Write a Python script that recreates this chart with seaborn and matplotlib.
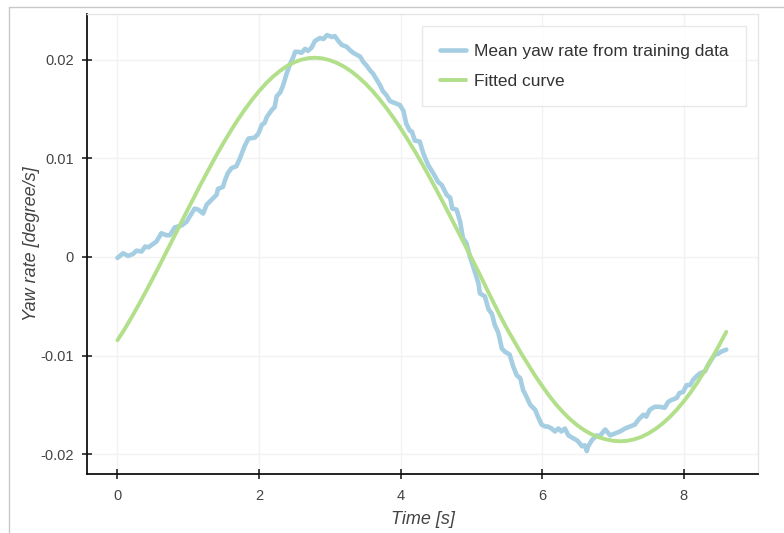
import numpy as np
import pandas as pd
import matplotlib
matplotlib.use("Agg")
import matplotlib.pyplot as plt
from matplotlib.lines import Line2D
import seaborn as sns

# mean yaw rate from training data
time_data = [0.00, 0.08, 0.15, 0.22, 0.27, 0.34, 0.39, 0.44, 0.48, 0.55, 0.62, 0.69, 0.74, 0.81,
             0.91, 0.98, 1.02, 1.09, 1.14, 1.21, 1.26, 1.33, 1.40, 1.42, 1.49, 1.52, 1.56, 1.61,
             1.68, 1.73, 1.80, 1.85, 1.94, 1.99, 2.04, 2.08, 2.11, 2.18, 2.22, 2.25, 2.30, 2.34,
             2.39, 2.44, 2.48, 2.51, 2.55, 2.60, 2.65, 2.69, 2.74, 2.79, 2.86, 2.91, 2.96, 3.03,
             3.07, 3.12, 3.17, 3.24, 3.28, 3.33, 3.38, 3.43, 3.47, 3.52, 3.57, 3.61, 3.66, 3.71,
             3.75, 3.80, 3.85, 3.92, 3.99, 4.04, 4.08, 4.13, 4.16, 4.20, 4.27, 4.32, 4.39, 4.46,
             4.53, 4.58, 4.65, 4.70, 4.73, 4.79, 4.84, 4.88, 4.93, 4.98, 5.03, 5.10, 5.12, 5.19,
             5.24, 5.29, 5.33, 5.38, 5.43, 5.47, 5.54, 5.59, 5.64, 5.69, 5.73, 5.78, 5.83, 5.90,
             5.94, 5.99, 6.04, 6.08, 6.13, 6.18, 6.23, 6.27, 6.32, 6.37, 6.44, 6.49, 6.53, 6.56,
             6.60, 6.63, 6.65, 6.70, 6.77, 6.81, 6.89, 6.96, 7.03, 7.10, 7.17, 7.24, 7.31, 7.36,
             7.43, 7.47, 7.52, 7.59, 7.66, 7.73, 7.78, 7.83, 7.90, 7.94, 7.99, 8.04, 8.09, 8.13,
             8.18, 8.23, 8.30, 8.34, 8.39, 8.44, 8.49, 8.53, 8.60]
yaw_data = [-0.0001, 0.00037, 0.0001, 0.0003, 0.00064, 0.00054, 0.00105, 0.00098, 0.0012, 0.00155,
            0.0024, 0.0022, 0.0022, 0.0030, 0.0032, 0.0036, 0.0041, 0.0049, 0.0048, 0.0044,
            0.0053, 0.0058, 0.0063, 0.0069, 0.0071, 0.0078, 0.0085, 0.0090, 0.0092, 0.0100,
            0.0113, 0.0120, 0.0121, 0.0125, 0.0134, 0.0136, 0.0142, 0.0149, 0.0152, 0.0163,
            0.0167, 0.0174, 0.0186, 0.0196, 0.0202, 0.0208, 0.0208, 0.0207, 0.0211, 0.0209,
            0.0212, 0.0219, 0.0222, 0.0221, 0.0225, 0.0223, 0.0224, 0.0219, 0.0215, 0.0213,
            0.0210, 0.0207, 0.0205, 0.0203, 0.0198, 0.0194, 0.0189, 0.0186, 0.0180, 0.0174,
            0.0168, 0.0164, 0.0158, 0.0156, 0.0154, 0.0148, 0.0135, 0.0128, 0.0127, 0.0118,
            0.0117, 0.0105, 0.0093, 0.0085, 0.0076, 0.0073, 0.0063, 0.0060, 0.0049, 0.0048,
            0.0036, 0.0019, 0.0014, 0.0000, -0.0011, -0.0027, -0.0037, -0.0040, -0.0053, -0.0058,
            -0.0069, -0.0077, -0.0093, -0.0096, -0.0099, -0.0111, -0.0120, -0.0123, -0.0135, -0.0142,
            -0.0150, -0.0155, -0.0162, -0.0170, -0.0172, -0.0172, -0.0174, -0.0177, -0.0174, -0.0177,
            -0.0174, -0.0181, -0.0184, -0.0186, -0.0189, -0.0192, -0.0191, -0.0197, -0.0192, -0.0186,
            -0.0181, -0.0182, -0.0175, -0.0181, -0.0179, -0.0177, -0.0174, -0.0172, -0.0170, -0.0165,
            -0.0160, -0.0162, -0.0155, -0.0152, -0.0152, -0.0153, -0.0147, -0.0145, -0.0143, -0.0138,
            -0.0137, -0.0130, -0.0130, -0.0125, -0.0121, -0.0118, -0.0116, -0.0110, -0.0104, -0.0099,
            -0.0098, -0.0096, -0.0094]

# fitted curve, every 0.1 s
time_fit = [0.0, 0.1, 0.2, 0.3, 0.4, 0.5, 0.6, 0.7, 0.8, 0.9, 1.0, 1.1, 1.2, 1.3, 1.4, 1.5,
            1.6, 1.7, 1.8, 1.9, 2.0, 2.1, 2.2, 2.3, 2.4, 2.5, 2.6, 2.7, 2.8, 2.9, 3.0, 3.1,
            3.2, 3.3, 3.4, 3.5, 3.6, 3.7, 3.8, 3.9, 4.0, 4.1, 4.2, 4.3, 4.4, 4.5, 4.6, 4.7,
            4.8, 4.9, 5.0, 5.1, 5.2, 5.3, 5.4, 5.5, 5.6, 5.7, 5.8, 5.9, 6.0, 6.1, 6.2, 6.3,
            6.4, 6.5, 6.6, 6.7, 6.8, 6.9, 7.0, 7.1, 7.2, 7.3, 7.4, 7.5, 7.6, 7.7, 7.8, 7.9,
            8.0, 8.1, 8.2, 8.3, 8.4, 8.5, 8.6]
yaw_fit = [-8.45e-3, -7.34e-3, -6.12e-3, -4.85e-3, -3.53e-3, -2.17e-3, -0.78e-3, 0.64e-3,
           2.05e-3, 3.49e-3, 4.90e-3, 6.30e-3, 7.69e-3, 9.02e-3, 10.34e-3, 11.59e-3,
           12.78e-3, 13.91e-3, 14.96e-3, 15.93e-3, 16.81e-3, 17.61e-3, 18.30e-3, 18.89e-3,
           19.38e-3, 19.75e-3, 20.01e-3, 20.16e-3, 20.20e-3, 20.13e-3, 19.95e-3, 19.67e-3,
           19.30e-3, 18.83e-3, 18.26e-3, 17.60e-3, 16.85e-3, 16.01e-3, 15.09e-3, 14.10e-3,
           13.04e-3, 11.90e-3, 10.73e-3, 9.49e-3, 8.20e-3, 6.88e-3, 5.52e-3, 4.13e-3,
           2.73e-3, 1.33e-3, -0.09e-3, -1.52e-3, -3.00e-3, -4.45e-3, -5.90e-3, -7.25e-3,
           -8.50e-3, -9.75e-3, -10.90e-3, -12.05e-3, -13.10e-3, -14.10e-3, -15.00e-3, -15.80e-3,
           -16.50e-3, -17.10e-3, -17.60e-3, -18.00e-3, -18.30e-3, -18.50e-3, -18.65e-3, -18.70e-3,
           -18.65e-3, -18.50e-3, -18.26e-3, -17.90e-3, -17.45e-3, -16.90e-3, -16.25e-3, -15.50e-3,
           -14.65e-3, -13.70e-3, -12.65e-3, -11.50e-3, -10.25e-3, -8.95e-3, -7.60e-3]

x_ticks = [0, 2, 4, 6, 8]
y_ticks = [0.02, 0.01, 0.0, -0.01, -0.02]
y_tick_labels = ["0.02", "0.01", "0", "-0.01", "-0.02"]

sns.set_theme(style="whitegrid")
plt.rcParams["font.family"] = ["Liberation Sans", "DejaVu Sans"]
plt.rcParams.update({
    "xtick.bottom": True, "ytick.left": True,
    "xtick.direction": "inout", "ytick.direction": "inout",
    "xtick.major.size": 7, "ytick.major.size": 7,
    "xtick.major.width": 1.1, "ytick.major.width": 1.1,
    "xtick.color": "#111111", "ytick.color": "#111111",
    "xtick.labelcolor": "#444444", "ytick.labelcolor": "#444444",
    "xtick.labelsize": 10.5, "ytick.labelsize": 10.5,
    "xtick.major.pad": 7.5, "ytick.major.pad": 6,
})

fig = plt.figure(figsize=(7.84, 5.33), dpi=100)
ax = fig.add_axes([0.111, 0.111, 0.856, 0.863])

df_data = pd.DataFrame({"t": time_data, "y": yaw_data})
df_fit = pd.DataFrame({"t": time_fit, "y": yaw_fit})
sns.lineplot(data=df_data, x="t", y="y", ax=ax, color="#a6cee3", lw=3.3,
             label="Mean yaw rate from training data", sort=False)
sns.lineplot(data=df_fit, x="t", y="y", ax=ax, color="#b2df8a", lw=2.8,
             label="Fitted curve", sort=False)

ax.set_xlim(-0.43, 9.05)
ax.set_ylim(-0.0220, 0.02465)
ax.set_xticks(x_ticks)
ax.set_yticks(y_ticks)
ax.set_yticklabels(y_tick_labels)

ax.set_facecolor("white")
ax.grid(True, color="#f2f2f2", lw=1)
for side in ["top", "right"]:
    ax.spines[side].set_color("#e6e6e6")
    ax.spines[side].set_linewidth(1)
for side in ["left", "bottom"]:
    ax.spines[side].set_color("#111111")
    ax.spines[side].set_linewidth(1.3)

ax.set_xlabel("Time [s]", fontsize=13, style="italic", color="#444444", labelpad=6)
ax.set_ylabel("Yaw rate [degree/s]", fontsize=13, style="italic", color="#444444", labelpad=0)

leg = ax.legend(loc="upper right", fontsize=12.5, frameon=True, fancybox=False,
                edgecolor="#e3e3e3", borderpad=1.0, labelspacing=0.85,
                handlelength=1.5, handletextpad=0.45, borderaxespad=0.72)
leg.get_frame().set_linewidth(1)
for txt in leg.get_texts():
    txt.set_color("#333333")

# thin grey frame at the top/left of the image
fig.add_artist(Line2D([9 / 784, 1], [1 - 7 / 533, 1 - 7 / 533], color="#c8c8c8", lw=1))
fig.add_artist(Line2D([9 / 784, 9 / 784], [0, 1 - 7 / 533], color="#c8c8c8", lw=1))

fig.savefig("out.png", dpi=100, facecolor="white")
